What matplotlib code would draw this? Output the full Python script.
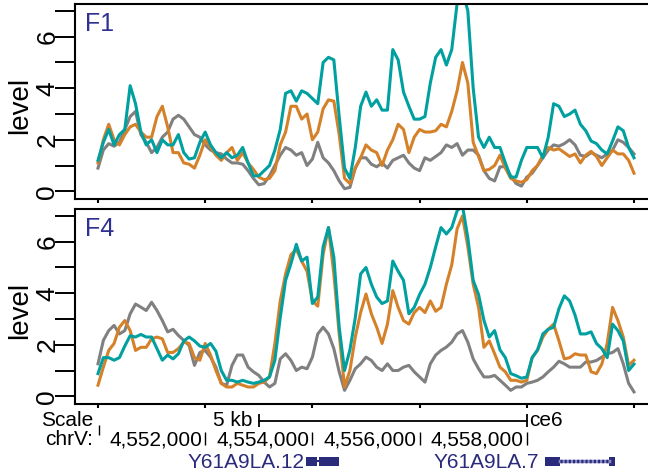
import numpy as np
import matplotlib
matplotlib.use("Agg")
import matplotlib.pyplot as plt

plt.rcParams["font.family"] = ["Liberation Sans", "DejaVu Sans"]

# coverage bins (100 bp) across chrV:4,550,000-4,560,000
bin_start = 4550000
bin_size = 100

f1_gray = [0.9, 1.6, 1.85, 1.75, 1.9, 2.4, 2.9, 3.1, 2.2, 1.9,
           1.5, 1.7, 2.1, 2.3, 2.8, 2.95, 2.8, 2.5, 2.2, 2.1,
           1.8, 1.6, 1.5, 1.45, 1.25, 1.1, 1.1, 1.05, 0.8, 0.5,
           0.25, 0.3, 0.6, 1.0, 1.4, 1.7, 1.6, 1.4, 1.5, 1.0,
           1.25, 1.9, 1.3, 1.1, 0.8, 0.4, 0.1, 0.15, 0.9, 1.3,
           1.3, 1.05, 0.95, 1.1, 0.9, 1.2, 1.3, 1.4, 1.1, 0.9,
           0.8, 1.3, 1.2, 1.35, 1.5, 1.8, 1.7, 1.85, 1.4, 1.6,
           1.6, 1.4, 0.8, 0.5, 0.4, 0.95, 0.95, 0.6, 0.3, 0.2,
           0.55, 0.7, 1.0, 1.3, 1.6, 1.8, 1.75, 1.85, 2.0, 1.8,
           1.4, 1.35, 1.5, 1.4, 1.3, 1.45, 1.6, 2.0, 1.9, 1.7, 1.45]
f1_orange = [1.1, 2.0, 2.6, 2.0, 1.8, 2.2, 2.5, 2.6, 2.3, 2.1,
             2.1, 2.9, 3.3, 2.5, 1.5, 1.5, 1.1, 1.05, 0.9, 1.4,
             2.0, 1.7, 1.4, 1.2, 1.5, 1.7, 1.2, 1.5, 1.1, 0.85,
             0.55, 0.45, 0.5, 0.8, 1.8, 2.3, 3.3, 3.3, 2.8, 3.0,
             2.0, 2.3, 3.2, 3.55, 3.5, 2.2, 0.5, 0.3, 0.9, 1.3,
             1.8, 1.6, 1.5, 1.0, 1.6, 2.0, 2.6, 2.4, 1.5, 2.1,
             2.4, 2.3, 2.3, 2.35, 2.6, 2.5, 3.1, 3.9, 5.0, 4.2,
             1.9, 1.35, 0.8, 0.85, 1.0, 1.4, 0.9, 0.5, 0.4, 0.35,
             0.45, 0.8, 1.0, 1.4, 1.7, 1.6, 1.65, 1.5, 1.35, 1.45,
             1.1, 1.4, 1.55, 1.35, 1.0, 1.3, 1.6, 1.45, 1.45, 1.2, 0.7]
f1_teal = [1.2, 1.9, 2.4, 1.8, 2.2, 2.4, 4.1, 3.4, 2.3, 1.8,
           2.0, 1.5, 2.0, 1.8, 1.8, 2.2, 1.5, 1.25, 1.3, 1.9,
           2.3, 1.8, 1.5, 1.3, 1.5, 1.3, 1.4, 1.7, 1.1, 0.6,
           0.6, 0.8, 1.0, 1.6, 2.4, 3.8, 3.9, 3.5, 3.9, 3.8,
           3.6, 3.4, 5.0, 5.2, 5.1, 2.9, 0.9, 0.5, 1.7, 3.3,
           3.85, 3.3, 3.55, 3.15, 3.15, 5.5, 5.1, 3.85, 3.3, 2.8,
           2.8, 2.9, 4.2, 5.2, 5.5, 4.9, 5.5, 7.3, 7.8, 7.0,
           4.0, 2.1, 1.7, 2.1, 1.7, 1.7, 1.1, 0.55, 0.55, 1.2,
           1.7, 1.7, 1.7, 1.3, 2.1, 3.4, 3.3, 2.9, 3.0, 3.15,
           2.6, 2.35, 1.95, 1.85, 1.6, 1.45, 1.95, 2.5, 2.35, 1.7, 1.3]

f4_gray = [1.26, 2.17, 2.55, 2.75, 2.42, 2.55, 3.2, 3.58, 3.46, 3.33,
           3.65, 3.33, 2.94, 2.5, 2.6, 2.36, 2.17, 1.97, 1.2, 1.7,
           1.78, 1.52, 1.13, 0.5, 0.43, 1.2, 1.6, 1.6, 1.13, 0.95,
           0.81, 0.55, 0.36, 0.5, 1.45, 1.65, 1.39, 1.0, 1.13, 1.07,
           1.52, 2.42, 2.68, 2.42, 1.85, 0.95, 0.23, 0.62, 1.07, 1.26,
           1.52, 1.39, 1.13, 1.0, 1.26, 1.0, 1.0, 1.13, 1.2, 0.95,
           0.75, 0.55, 1.26, 1.6, 1.78, 1.91, 2.1, 2.42, 2.55, 2.1,
           1.45, 1.07, 0.75, 0.75, 0.81, 0.62, 0.43, 0.23, 0.36, 0.36,
           0.5, 0.55, 0.62, 0.75, 0.95, 1.13, 1.36, 1.26, 1.13, 1.13,
           1.13, 1.33, 1.33, 1.39, 1.52, 1.65, 1.7, 1.85, 1.26, 0.5, 0.17]
f4_orange = [0.43, 1.13, 1.78, 2.05, 2.68, 2.94, 2.55, 1.78, 1.9, 1.9,
             2.23, 2.3, 2.23, 1.7, 1.7, 1.85, 2.1, 2.05, 1.5, 1.4,
             2.05, 1.6, 1.0, 0.5, 0.36, 0.36, 0.5, 0.43, 0.36, 0.36,
             0.5, 0.55, 0.75, 2.05, 3.7, 4.75, 5.5, 5.7, 5.25, 4.85,
             3.7, 3.5, 5.5, 6.55, 4.75, 2.42, 0.36, 1.0, 2.3, 3.25,
             3.97, 3.2, 2.68, 2.05, 2.8, 4.1, 3.45, 2.94, 2.8, 3.25,
             3.45, 3.25, 3.7, 3.3, 3.45, 4.35, 5.1, 6.5, 7.0, 5.8,
             4.35, 3.45, 1.9, 2.15, 1.65, 1.13, 0.95, 0.62, 0.62, 0.55,
             0.62, 1.5, 1.78, 2.3, 2.6, 2.8, 2.15, 1.45, 1.5, 1.65,
             1.6, 1.6, 0.95, 0.88, 1.25, 2.05, 3.45, 2.94, 2.3, 1.2, 1.4]
f4_teal = [0.88, 1.5, 1.5, 1.4, 1.5, 1.95, 2.35, 2.3, 2.4, 2.3,
           2.3, 1.85, 1.4, 1.6, 1.45, 1.65, 2.15, 2.3, 2.15, 1.95,
           1.9, 2.05, 1.75, 1.0, 0.62, 0.62, 0.55, 0.62, 0.55, 0.5,
           0.55, 0.62, 0.75, 1.4, 3.05, 4.5, 5.15, 5.9, 5.25, 5.4,
           3.6, 3.85, 5.8, 6.55, 5.4, 2.68, 1.0, 1.8, 3.05, 4.75,
           5.0, 4.35, 3.85, 3.6, 3.7, 5.25, 4.85, 4.5, 3.2, 3.45,
           3.95, 4.35, 5.0, 5.8, 6.55, 6.3, 6.55, 7.2, 7.4, 6.15,
           4.5, 3.95, 2.95, 2.3, 2.55, 1.8, 1.5, 0.88, 0.8, 0.7,
           0.75, 1.5, 1.8, 2.42, 2.6, 2.68, 3.4, 3.9, 3.7, 3.15,
           2.42, 2.42, 2.5, 2.05, 1.85, 1.5, 2.8, 2.55, 2.15, 1.0, 1.25]

panels = [("F1", f1_gray, f1_orange, f1_teal),
          ("F4", f4_gray, f4_orange, f4_teal)]
track_colors = ["#808080", "#d5812a", "#00a0a0"]

y_major = [0, 2, 4, 6]
y_minor = [1, 3, 5, 7]
coord_ticks = [4552000, 4554000, 4556000, 4558000]
coord_labels = ["4,552,000", "4,554,000", "4,556,000", "4,558,000"]
scale_start, scale_end = 4553000, 4558000
gene_names = ["Y61A9LA.12", "Y61A9LA.7"]
gene_exons = [[(4553890, 4554090), (4554130, 4554500)],
              [(4558340, 4558620), (4559540, 4559645)]]

W, H = 648, 475
fig = plt.figure(figsize=(W / 100, H / 100), dpi=100)


def px_rect(left, top, right, bottom):
    return [left / W, 1 - bottom / H, (right - left) / W, (bottom - top) / H]


xlim = (4549571, 4560336)
navy = "#2e3192"

for k, (name, gray, orange, teal) in enumerate(panels):
    top = 4 + k * 205
    ax = fig.add_axes(px_rect(75, top, 652, top + 195))
    pos = bin_start + bin_size * np.arange(len(gray))
    for series, col in zip([gray, orange, teal], track_colors):
        ax.plot(pos, series, color=col, lw=2.2)
    ax.set_xlim(*xlim)
    ax.set_ylim(-0.3, 7.27)
    ax.set_xticks(range(4550000, 4560001, 2000))
    ax.tick_params(axis="x", direction="out", length=3, width=1.5, labelbottom=False)
    ax.set_yticks(y_major)
    ax.set_yticks(y_minor, minor=True)
    ax.set_yticklabels([str(v) for v in y_major])
    ax.tick_params(axis="y", which="both", direction="out", length=14.4, width=1.4,
                   labelsize=19, pad=-3)
    for lbl in ax.get_yticklabels():
        lbl.set_rotation(90)
        lbl.set_va("center")
    for sp in ax.spines.values():
        sp.set_linewidth(1.5)
    ax.text(0.017, 0.96, name, transform=ax.transAxes, ha="left", va="top",
            fontsize=18, color=navy)
    fig.text(20 / W, 1 - (top + 101) / H, "level", rotation=90, ha="center",
             va="center", fontsize=20)

# annotation track: y values are pixel rows of the figure
ann = fig.add_axes(px_rect(75, 405, 652, 475))
ann.set_xlim(*xlim)
ann.set_ylim(475, 405)
ann.axis("off")

fs = 15
ann.text(4549912, 426, "Scale", ha="right", va="baseline", fontsize=fs)
ann.text(scale_start - 114, 426, "5 kb", ha="right", va="baseline", fontsize=fs)
ann.plot([scale_start, scale_end], [420.7, 420.7], color="black", lw=1.3)
ann.vlines([scale_start, scale_end], 414, 427, color="black", lw=1.3)
ann.text(scale_end + 40, 426, "ce6", ha="left", va="baseline", fontsize=fs)

ann.text(4549912, 445, "chrV:", ha="right", va="baseline", fontsize=fs)
ann.vlines([bin_start + 20], 425, 435, color="black", lw=1)
for p, lab in zip(coord_ticks, coord_labels):
    ann.text(p - 60, 445, lab, ha="right", va="baseline", fontsize=fs)
    ann.vlines([p], 432, 445, color="black", lw=1)

gene_color = "#2b2b7c"
for name, exons in zip(gene_names, gene_exons):
    x0 = exons[0][0]
    if exons[1][0] - exons[0][1] > 300:
        ann.plot([exons[0][1], exons[1][0]], [461.4, 461.4], color="#8a8ac4", lw=2.5)
        ann.plot([exons[0][1], exons[1][0]], [461.4, 461.4], color=gene_color, lw=2.5,
                 linestyle=(0, (0.6, 0.6)))
    else:
        ann.plot([exons[0][1], exons[1][0]], [461.4, 461.4], color=gene_color, lw=1.5)
    for a, b in exons:
        ann.fill_between([a, b], 456.8, 466, color=gene_color, lw=0)
    gap = 45 if name.endswith("12") else 110
    ann.text(x0 - gap, 468.3, name, ha="right", va="baseline", fontsize=fs,
             color=gene_color)

fig.savefig("out.png", dpi=100)
